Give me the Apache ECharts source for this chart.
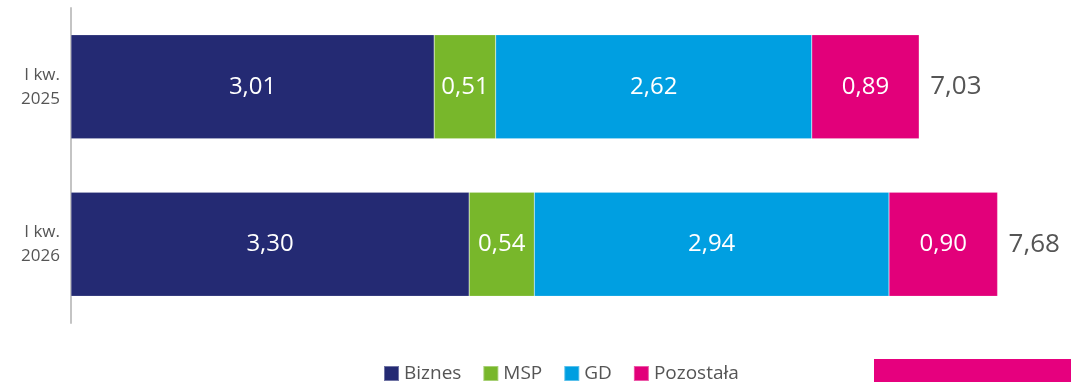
<!DOCTYPE html>
<html>
<head>
<meta charset="utf-8">
<script src="https://cdn.jsdelivr.net/npm/echarts@6/dist/echarts.min.js"></script>
<style>
  html, body { margin: 0; padding: 0; background: #fff; }
  #chart { width: 1071px; height: 382px; }
</style>
</head>
<body>
<div id="chart"></div>
<script>
// Quarterly values by segment
const categories = ['I kw.\n2025', 'I kw.\n2026'];
const biznes = [3.01, 3.30];
const msp = [0.51, 0.54];
const gd = [2.62, 2.94];
const pozostala = [0.89, 0.90];
const totals = [7.03, 7.68];

const FONT = '"Open Sans", "Noto Sans", sans-serif';
const fmt = v => v.toFixed(2).replace('.', ',');

const segment = (name, data, color) => ({
  name: name,
  type: 'bar',
  stack: 'sum',
  data: data,
  barWidth: 104,
  itemStyle: { color: color, borderColor: 'rgba(255,255,255,0.35)', borderWidth: 0.5 },
  label: {
    show: true,
    position: 'inside',
    color: '#fff',
    fontFamily: FONT,
    fontSize: 24,
    formatter: p => fmt(p.value)
  },
  emphasis: { disabled: true }
});

const chart = echarts.init(document.getElementById('chart'));
chart.setOption({
  animation: false,
  grid: { left: 71, top: 8, width: 965.2, height: 315, containLabel: false },
  xAxis: {
    type: 'value',
    min: 0,
    max: 8,
    show: false
  },
  yAxis: {
    type: 'category',
    data: categories,
    inverse: true,
    axisLine: { show: true, lineStyle: { color: '#c4c4c4', width: 2 } },
    axisTick: { show: false },
    axisLabel: {
      color: '#555',
      fontFamily: FONT,
      fontSize: 17,
      lineHeight: 24,
      align: 'right',
      margin: 11
    }
  },
  legend: {
    left: 378,
    top: 359,
    itemWidth: 15,
    itemHeight: 15,
    itemGap: 21,
    icon: 'rect',
    textStyle: { color: '#555', fontFamily: FONT, fontSize: 19 },
    data: ['Biznes', 'MSP', 'GD', 'Pozostała']
  },
  series: [
    segment('Biznes', biznes, '#242a73'),
    segment('MSP', msp, '#78b72b'),
    segment('GD', gd, '#009fe1'),
    segment('Pozostała', pozostala, '#e2007a'),
    {
      name: 'Razem',
      type: 'bar',
      data: totals,
      barWidth: 104,
      barGap: '-100%',
      z: 0,
      silent: true,
      itemStyle: { color: 'rgba(0,0,0,0)' },
      label: {
        show: true,
        position: 'right',
        distance: 11,
        color: '#555',
        fontFamily: FONT,
        fontSize: 26,
        formatter: p => fmt(p.value)
      }
    }
  ],
  graphic: [
    {
      type: 'rect',
      shape: { x: 874, y: 359, width: 197, height: 23 },
      style: { fill: '#e6007e' },
      silent: true
    }
  ]
});
</script>
</body>
</html>
